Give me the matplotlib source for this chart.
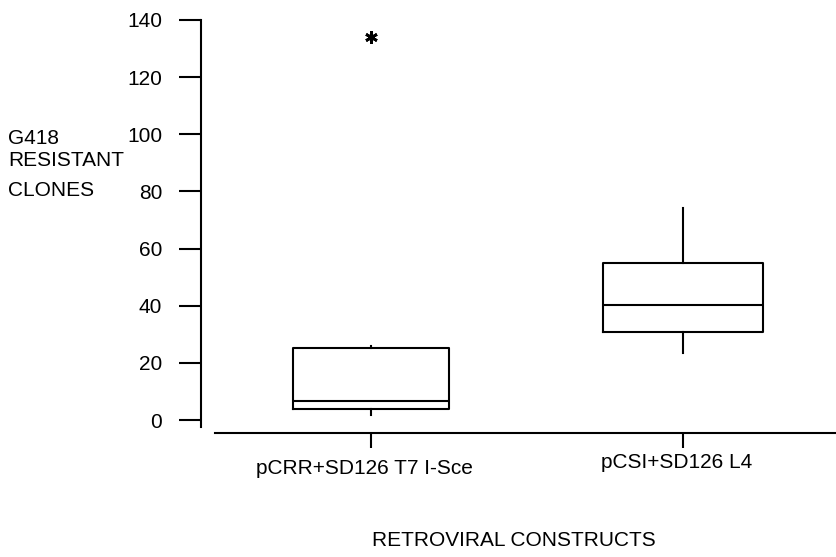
import numpy as np
import matplotlib.pyplot as plt
from matplotlib.transforms import ScaledTranslation

plt.rcParams['font.family'] = ['Liberation Sans', 'DejaVu Sans']

# data
groups = ["pCRR+SD126 T7 I-Sce", "pCSI+SD126 L4"]
whislo = [1.75, 23.4]
q1 = [3.9, 30.8]
med = [6.8, 40.2]
q3 = [25.2, 55.0]
whishi = [26.0, 74.2]
outliers = [[134], []]
yticks = [0, 20, 40, 60, 80, 100, 120, 140]

fig = plt.figure(figsize=(8.36, 5.57), dpi=100)
ax = fig.add_axes([0.2404, 0.2226, 0.7596, 0.7415])

stats = []
for i in range(len(groups)):
    stats.append(dict(med=med[i], q1=q1[i], q3=q3[i], whislo=whislo[i],
                      whishi=whishi[i], fliers=outliers[i], label=groups[i]))

lw = 1.5
ax.bxp(stats, positions=[1, 2], widths=[0.5, 0.515], showcaps=False,
       boxprops=dict(color='black', linewidth=lw),
       medianprops=dict(color='black', linewidth=lw),
       whiskerprops=dict(color='black', linewidth=lw),
       flierprops=dict(marker=(6, 2, 0), markersize=9, markeredgewidth=2,
                       markeredgecolor='black', markerfacecolor='black'))

ax.set_xlim(0.455, 2.49)
ax.set_ylim(-4.55, 140)
ax.set_yticks(yticks)
ax.set_yticklabels([str(v) for v in yticks])

for s in ['top', 'right']:
    ax.spines[s].set_visible(False)
ax.spines['left'].set_bounds(-2.5, 140)
ax.spines['bottom'].set_bounds(0.5, 2.49)
ax.spines['left'].set_linewidth(lw)
ax.spines['bottom'].set_linewidth(lw)

ax.tick_params(axis='y', direction='out', length=15.8, width=lw, pad=12, labelsize=15)
ax.tick_params(axis='x', direction='out', length=10.8, width=lw, pad=6, labelsize=15)

# small shifts so the labels sit like the original
shifts = [(-0.07, -0.03), (-0.06, 0.03)]
for lab, (dx, dy) in zip(ax.get_xticklabels(), shifts):
    lab.set_transform(lab.get_transform() + ScaledTranslation(dx, dy, fig.dpi_scale_trans))

fig.text(8 / 836, 1 - 138.5 / 557, "G418", fontsize=15, va='center', ha='left')
fig.text(8 / 836, 1 - 160 / 557, "RESISTANT", fontsize=15, va='center', ha='left')
fig.text(8 / 836, 1 - 191 / 557, "CLONES", fontsize=15, va='center', ha='left')
fig.text(514 / 836, 1 - 541 / 557, "RETROVIRAL CONSTRUCTS", fontsize=15, va='center', ha='center')

fig.savefig("out.png", dpi=100)
